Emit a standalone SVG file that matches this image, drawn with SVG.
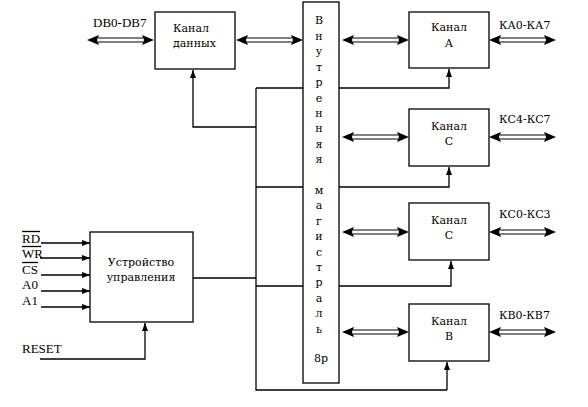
<svg xmlns="http://www.w3.org/2000/svg" width="588" height="407" viewBox="0 0 588 407">
<style>
text{font-family:"Liberation Serif",serif;font-size:13px;fill:#000}
.c{font-family:"DejaVu Serif","Liberation Serif",serif;font-size:11px}
.b{fill:#fff;stroke:#000;stroke-width:1.3}
.l{fill:none;stroke:#000;stroke-width:1.3}
.m{text-anchor:middle}
</style>
<defs>
<marker id="ah" viewBox="0 0 8 6" refX="8" refY="3" markerWidth="8" markerHeight="6" markerUnits="userSpaceOnUse" orient="auto">
<path d="M0,0L8,3L0,6z" fill="#000"/>
</marker>
<g id="dbl">
<path d="M0,0L12,-5L10,0L12,5z" fill="#000"/>
<path d="M67,0L55,-5L57,0L55,5z" fill="#000"/>
<path d="M11,-2H56M11,2H56" stroke="#000" stroke-width="1.2" fill="none"/>
</g>
</defs>
<rect width="588" height="407" fill="#fff"/>
<g id="connectors">
<path class="l" d="M256,88V390H447"/>
<path class="l" d="M447,390V362" marker-end="url(#ah)"/>
<path class="l" d="M256,88H303M256,187H303M256,286H303M193,278H256"/>
<path class="l" d="M256,127H193V70" marker-end="url(#ah)"/>
<path class="l" d="M339,88H449V69" marker-end="url(#ah)"/>
<path class="l" d="M339,187H449V167" marker-end="url(#ah)"/>
<path class="l" d="M339,286H451V261" marker-end="url(#ah)"/>
<path class="l" d="M41,243H90" marker-end="url(#ah)"/>
<path class="l" d="M40,258H90" marker-end="url(#ah)"/>
<path class="l" d="M41,275H90" marker-end="url(#ah)"/>
<path class="l" d="M41,291H90" marker-end="url(#ah)"/>
<path class="l" d="M41,307H90" marker-end="url(#ah)"/>
<path class="l" d="M40,359H145V323" marker-end="url(#ah)"/>
<use href="#dbl" x="87" y="40"/>
<use href="#dbl" x="236" y="40"/>
<use href="#dbl" x="342" y="40"/>
<use href="#dbl" x="489" y="40"/>
<use href="#dbl" x="342" y="137"/>
<use href="#dbl" x="489" y="137"/>
<use href="#dbl" x="342" y="232"/>
<use href="#dbl" x="489" y="232"/>
<use href="#dbl" x="342" y="332"/>
<use href="#dbl" x="489" y="332"/>
</g>
<g id="data-channel">
<rect class="b" x="155" y="12" width="80" height="57"/>
<text class="c" x="173" y="32">Канал</text>
<text class="c" x="173" y="47">данных</text>
</g>
<text x="93" y="27">DB0-DB7</text>
<g id="bus">
<rect class="b" x="303" y="2" width="36" height="381"/>
<text class="m c" x="319" y="24">В</text>
<text class="m c" x="319" y="40">н</text>
<text class="m c" x="319" y="55">у</text>
<text class="m c" x="319" y="71">т</text>
<text class="m c" x="319" y="86">р</text>
<text class="m c" x="319" y="102">е</text>
<text class="m c" x="319" y="117">н</text>
<text class="m c" x="319" y="132">н</text>
<text class="m c" x="319" y="148">я</text>
<text class="m c" x="319" y="163">я</text>
<text class="m c" x="319" y="194">м</text>
<text class="m c" x="319" y="209">а</text>
<text class="m c" x="319" y="225">г</text>
<text class="m c" x="319" y="240">и</text>
<text class="m c" x="319" y="256">с</text>
<text class="m c" x="319" y="271">т</text>
<text class="m c" x="319" y="286">р</text>
<text class="m c" x="319" y="302">а</text>
<text class="m c" x="319" y="317">л</text>
<text class="m c" x="319" y="333">ь</text>
<text class="m c" x="321" y="362">8р</text>
</g>
<g id="channel-a">
<rect class="b" x="409" y="12" width="80" height="56"/>
<text class="m c" x="449" y="31">Канал</text>
<text class="m c" x="449" y="47">А</text>
</g>
<text class="c" x="499" y="29">КА0-КА7</text>
<g id="channel-c1">
<rect class="b" x="409" y="109" width="80" height="57"/>
<text class="m c" x="449" y="130">Канал</text>
<text class="m c" x="449" y="145">С</text>
</g>
<text class="c" x="499" y="123">КС4-КС7</text>
<g id="channel-c2">
<rect class="b" x="409" y="203" width="80" height="57"/>
<text class="m c" x="449" y="224">Канал</text>
<text class="m c" x="449" y="239">С</text>
</g>
<text class="c" x="499" y="218">КС0-КС3</text>
<g id="channel-b">
<rect class="b" x="409" y="304" width="80" height="57"/>
<text class="m c" x="449" y="325">Канал</text>
<text class="m c" x="449" y="340">В</text>
</g>
<text class="c" x="499" y="319">КВ0-КВ7</text>
<g id="control">
<rect class="b" x="90" y="232" width="103" height="90"/>
<text class="m c" x="141" y="266">Устройство</text>
<text class="m c" x="141" y="281">управления</text>
</g>
<g id="inputs">
<text x="22" y="243">RD</text>
<path class="l" d="M22,231.5H40" stroke-width="1.2"/>
<text x="22" y="258">WR</text>
<path class="l" d="M22,246.5H41" stroke-width="1.2"/>
<text x="22" y="274">CS</text>
<path class="l" d="M22,262.5H38" stroke-width="1.2"/>
<text x="22" y="289">A0</text>
<text x="22" y="305">A1</text>
<text x="22" y="353">RESET</text>
</g>
</svg>
